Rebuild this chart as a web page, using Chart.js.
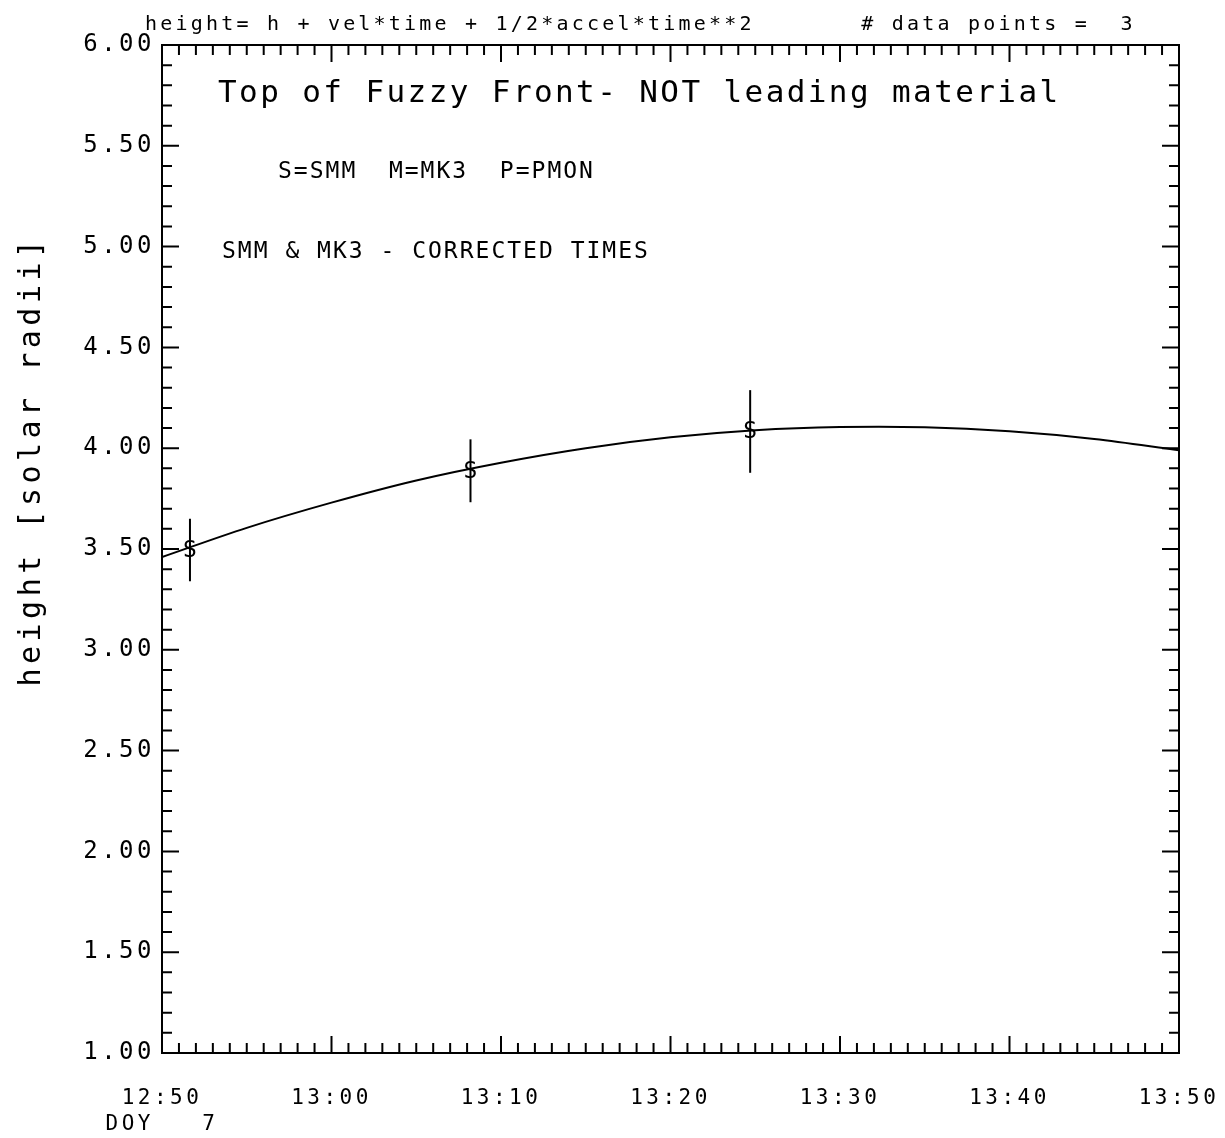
<!DOCTYPE html>
<html>
<head>
<meta charset="utf-8">
<script src="https://cdn.jsdelivr.net/npm/chart.js@4.4.1/dist/chart.umd.min.js"></script>
<style>
  html, body { margin: 0; padding: 0; background: #fff; }
  #wrap { width: 1225px; height: 1138px; }
</style>
</head>
<body>
<div id="wrap"><canvas id="c" width="1225" height="1138"></canvas></div>
<script>
// ---- data (minutes after 12:50, DOY 7) ----
const obsMinutes = [1.65, 18.2, 34.7];
const obsHeight  = [3.495, 3.888, 4.083];
const obsError   = [0.155, 0.156, 0.205];
const obsSymbol  = ['S', 'S', 'S'];

const fitMinutes = [0, 5, 10, 15, 20, 25, 30, 35, 40, 45, 50, 55, 60];
const fitHeight  = [3.46, 3.605, 3.73, 3.84, 3.928, 4.0, 4.054, 4.089, 4.105, 4.104, 4.084, 4.046, 3.99];

const xTickLabels = ['12:50', '13:00', '13:10', '13:20', '13:30', '13:40', '13:50'];
const doyLabel = 'DOY   7';
const yTickValues = [1.0, 1.5, 2.0, 2.5, 3.0, 3.5, 4.0, 4.5, 5.0, 5.5, 6.0];

const topLine = 'height= h + vel*time + 1/2*accel*time**2       # data points =  3';
const plotTitle = 'Top of Fuzzy Front- NOT leading material';
const legendLine = 'S=SMM  M=MK3  P=PMON';
const noteLine = 'SMM & MK3 - CORRECTED TIMES';
const yTitle = 'height [solar radii]';

const FONT = '"DejaVu Sans Mono", "Liberation Mono", monospace';

const framePlugin = {
  id: 'framePlugin',
  beforeDraw(chart) {
    chart.ctx.letterSpacing = '3.5px';
  },
  afterDatasetsDraw(chart) {
    const ctx = chart.ctx;
    const xs = chart.scales.x, ys = chart.scales.y;
    const a = chart.chartArea;
    ctx.save();
    ctx.strokeStyle = '#000';
    ctx.fillStyle = '#000';
    ctx.lineWidth = 2;
    // error bars and symbols
    const meta = chart.getDatasetMeta(1);
    meta.data.forEach((pt, i) => {
      const px = pt.x;
      const yLo = ys.getPixelForValue(obsHeight[i] - obsError[i]);
      const yHi = ys.getPixelForValue(obsHeight[i] + obsError[i]);
      ctx.beginPath();
      ctx.moveTo(px, yLo);
      ctx.lineTo(px, yHi);
      ctx.stroke();
      ctx.letterSpacing = '0px';
      ctx.font = '23px ' + FONT;
      ctx.textAlign = 'center';
      ctx.textBaseline = 'middle';
      ctx.fillText(obsSymbol[i], px, pt.y + 1);
    });
    // frame
    ctx.lineWidth = 2;
    ctx.strokeRect(a.left, a.top, a.right - a.left, a.bottom - a.top);
    // x ticks (every minute), inward on bottom and top
    for (let m = 0; m <= 60; m++) {
      const px = xs.getPixelForValue(m);
      const len = (m % 10 === 0) ? 17 : 10;
      ctx.beginPath();
      ctx.moveTo(px, a.bottom); ctx.lineTo(px, a.bottom - len);
      ctx.moveTo(px, a.top); ctx.lineTo(px, a.top + len);
      ctx.stroke();
    }
    // y ticks (every 0.1), inward on left and right
    for (let k = 10; k <= 60; k++) {
      const py = ys.getPixelForValue(k / 10);
      const len = (k % 5 === 0) ? 17 : 10;
      ctx.beginPath();
      ctx.moveTo(a.left, py); ctx.lineTo(a.left + len, py);
      ctx.moveTo(a.right, py); ctx.lineTo(a.right - len, py);
      ctx.stroke();
    }
    // texts
    ctx.textAlign = 'left';
    ctx.textBaseline = 'alphabetic';
    ctx.letterSpacing = '3.2px';
    ctx.font = '20px ' + FONT;
    ctx.fillText(topLine, a.left - 17, a.top - 15);
    ctx.letterSpacing = '2.4px';
    ctx.font = '31px ' + FONT;
    ctx.fillText(plotTitle, a.left + 56, a.top + 57);
    ctx.letterSpacing = '2px';
    ctx.font = '23px ' + FONT;
    ctx.fillText(legendLine, a.left + 116, a.top + 133);
    ctx.fillText(noteLine, a.left + 60, a.top + 213);
    // y title
    ctx.save();
    ctx.translate(40, a.top + 416);
    ctx.rotate(-Math.PI / 2);
    ctx.textAlign = 'center';
    ctx.letterSpacing = '4.5px';
    ctx.font = '30px ' + FONT;
    ctx.fillText(yTitle, 0, 0);
    ctx.restore();
    ctx.restore();
    ctx.letterSpacing = '3.5px';
  }
};

new Chart(document.getElementById('c'), {
  type: 'scatter',
  data: {
    datasets: [
      {
        label: 'fit',
        data: fitMinutes.map((t, i) => ({ x: t, y: fitHeight[i] })),
        showLine: true,
        borderColor: '#000',
        borderWidth: 2,
        pointRadius: 0,
        tension: 0.35
      },
      {
        label: 'SMM',
        data: obsMinutes.map((t, i) => ({ x: t, y: obsHeight[i] })),
        showLine: false,
        pointRadius: 0,
        borderColor: '#000'
      }
    ]
  },
  options: {
    responsive: false,
    animation: false,
    devicePixelRatio: 1,
    layout: { padding: { top: 45, right: 46, bottom: 0, left: 0 } },
    plugins: { legend: { display: false }, tooltip: { enabled: false }, title: { display: false } },
    scales: {
      x: {
        type: 'linear',
        min: 0, max: 60,
        grid: { display: false, drawTicks: false },
        border: { display: false },
        afterFit(s) { s.height = 85; s.paddingLeft = 0; s.paddingRight = 0; },
        afterBuildTicks(s) { s.ticks = xTickLabels.map((_, i) => ({ value: i * 10 })); },
        ticks: {
          padding: 32,
          color: '#000',
          maxRotation: 0,
          autoSkip: false,
          font: { family: FONT, size: 21, lineHeight: 1.25 },
          callback(v) {
            const i = Math.round(v / 10);
            return i === 0 ? [xTickLabels[i], doyLabel] : xTickLabels[i];
          }
        }
      },
      y: {
        type: 'linear',
        min: 1, max: 6,
        grid: { display: false, drawTicks: false },
        border: { display: false },
        afterFit(s) { s.width = 162; s.paddingTop = 0; s.paddingBottom = 0; },
        afterBuildTicks(s) { s.ticks = yTickValues.map(v => ({ value: v })); },
        ticks: {
          padding: 7,
          color: '#000',
          autoSkip: false,
          font: { family: FONT, size: 24 },
          callback(v) { return Number(v).toFixed(2); }
        }
      }
    }
  },
  plugins: [framePlugin]
});
</script>
</body>
</html>
